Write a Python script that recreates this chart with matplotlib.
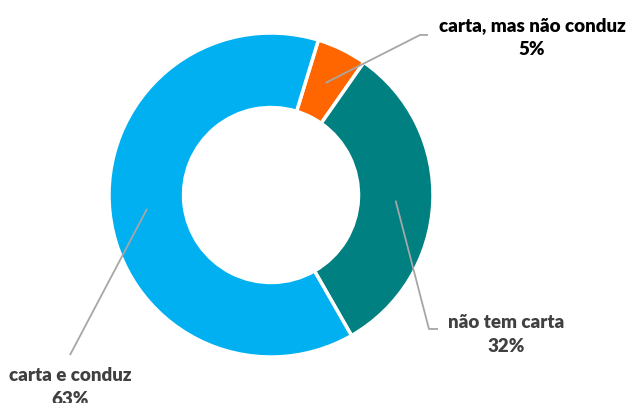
import numpy as np
import matplotlib
matplotlib.use('Agg')
import matplotlib.pyplot as plt

plt.rcParams['font.family'] = ['Lato', 'DejaVu Sans']

# dados
categorias = ['carta, mas não conduz', 'não tem carta', 'carta e conduz']
valores = [5, 32, 63]
cores = ['#FF6600', '#008080', '#00B0F0']
cor_texto = ['#000000', '#404040', '#404040']

fig = plt.figure(figsize=(6.27, 4.03), dpi=100)
# eixo do donut: centro (271,195) px, raio 162 px
ax = fig.add_axes([(271 - 162) / 627, (403 - 195 - 162) / 403, 324 / 627, 324 / 403])
wedges, _ = ax.pie(valores, colors=cores, startangle=73, counterclock=False,
                   radius=1, wedgeprops=dict(width=0.46, edgecolor='white', linewidth=2.5))
ax.set_xlim(-1, 1)
ax.set_ylim(-1, 1)
ax.set_aspect('equal')
ax.axis('off')

# posição dos rótulos (cotovelo, fim da linha, texto)
cotovelos = [(0.92, 0.988), (0.975, -0.827), (-1.241, -0.988)]
fins = [(0.969, 0.988), (1.031, -0.827), (-1.241, -0.988)]
textos_pos = [(1.611, 0.972), (1.451, -0.862), (-1.241, -1.19)]

for w, v, nome, ct, fim, tp, ctxt in zip(wedges, valores, categorias, cotovelos, fins, textos_pos, cor_texto):
    ang = np.deg2rad((w.theta1 + w.theta2) / 2)
    x0, y0 = 0.77 * np.cos(ang), 0.77 * np.sin(ang)
    ax.plot([x0, ct[0], fim[0]], [y0, ct[1], fim[1]], color='#A6A6A6', lw=1.3,
            clip_on=False, solid_capstyle='butt')
    ax.text(tp[0], tp[1], f'{nome}\n{v}%', ha='center', va='center', fontsize=13.5,
            fontweight='heavy', color=ctxt, linespacing=1.5, clip_on=False)

fig.savefig('out.png', dpi=100)
